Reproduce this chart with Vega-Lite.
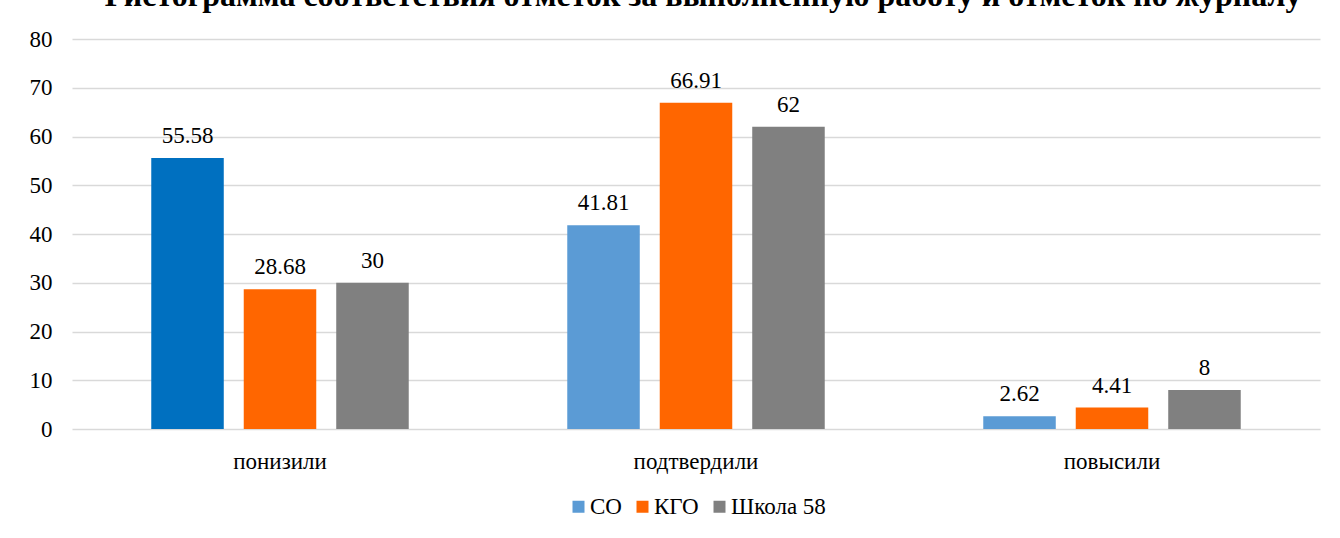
{
  "$schema": "https://vega.github.io/schema/vega-lite/v6.json",
  "width": 1248,
  "height": 390,
  "autosize": {"type": "none"},
  "padding": {"left": 72, "top": 39, "right": 20, "bottom": 109},
  "background": "white",
  "title": {
    "text": "Гистограмма соответствия отметок за выполненную работу и отметок по журналу",
    "font": "Liberation Serif",
    "fontSize": 32,
    "fontWeight": "bold",
    "color": "#000000",
    "anchor": "middle",
    "offset": 15,
    "dx": 7
  },
  "config": {
    "view": {"stroke": null},
    "font": "Liberation Serif",
    "legend": {"layout": {"bottom": {"anchor": "middle"}}}
  },
  "data": {
    "values": [
      {"category": "понизили", "series": "СО", "value": 55.58},
      {"category": "понизили", "series": "КГО", "value": 28.68},
      {"category": "понизили", "series": "Школа 58", "value": 30},
      {"category": "подтвердили", "series": "СО", "value": 41.81},
      {"category": "подтвердили", "series": "КГО", "value": 66.91},
      {"category": "подтвердили", "series": "Школа 58", "value": 62},
      {"category": "повысили", "series": "СО", "value": 2.62},
      {"category": "повысили", "series": "КГО", "value": 4.41},
      {"category": "повысили", "series": "Школа 58", "value": 8}
    ]
  },
  "encoding": {
    "x": {
      "field": "category",
      "type": "nominal",
      "sort": ["понизили", "подтвердили", "повысили"],
      "scale": {"paddingInner": 0, "paddingOuter": 0},
      "axis": {
        "title": null,
        "labelAngle": 0,
        "labelFont": "Liberation Serif",
        "labelFontSize": 23,
        "labelColor": "#000000",
        "labelPadding": 21,
        "ticks": false,
        "domain": false
      }
    },
    "xOffset": {
      "field": "series",
      "type": "nominal",
      "sort": ["СО", "КГО", "Школа 58"],
      "scale": {"paddingInner": 0.216, "paddingOuter": 0.857}
    },
    "y": {
      "field": "value",
      "type": "quantitative",
      "scale": {"domain": [0, 80], "nice": false},
      "axis": {
        "title": null,
        "values": [0, 10, 20, 30, 40, 50, 60, 70, 80],
        "labelFont": "Liberation Serif",
        "labelFontSize": 23,
        "labelColor": "#000000",
        "labelPadding": 20,
        "ticks": false,
        "domain": false,
        "gridColor": "#d9d9d9",
        "gridWidth": 1.3
      }
    }
  },
  "layer": [
    {
      "mark": {"type": "bar"},
      "encoding": {
        "color": {
          "field": "series",
          "type": "nominal",
          "sort": ["СО", "КГО", "Школа 58"],
          "scale": {
            "domain": ["СО", "КГО", "Школа 58"],
            "range": ["#5B9BD5", "#FF6600", "#808080"]
          },
          "legend": {
            "title": null,
            "orient": "bottom",
            "direction": "horizontal",
            "offset": 22,
            "symbolType": "square",
            "symbolSize": 144,
            "symbolStrokeWidth": 0,
            "labelFont": "Liberation Serif",
            "labelFontSize": 23,
            "labelColor": "#000000",
            "columnPadding": 9,
            "labelOffset": 0
          },
          "condition": {
            "test": "datum.category === 'понизили' && datum.series === 'СО'",
            "value": "#0070C0"
          }
        }
      }
    },
    {
      "mark": {
        "type": "text",
        "baseline": "alphabetic",
        "dy": -15,
        "font": "Liberation Serif",
        "fontSize": 23,
        "color": "#000000"
      },
      "encoding": {
        "text": {"field": "value", "type": "quantitative"}
      }
    }
  ]
}
